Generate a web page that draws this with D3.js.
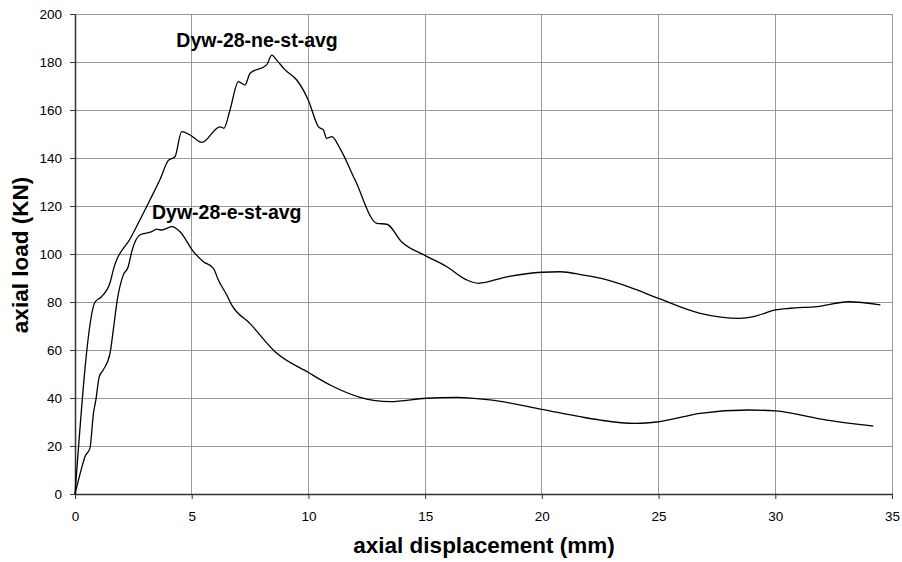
<!DOCTYPE html>
<html><head><meta charset="utf-8">
<script src="https://cdn.jsdelivr.net/npm/d3@7/dist/d3.min.js"></script>
<style>body{margin:0;background:#fff}svg{display:block}</style>
</head><body>
<svg id="c" width="902" height="562"></svg>
<script>
const xTicks = [0,5,10,15,20,25,30,35];
const yTicks = [0,20,40,60,80,100,120,140,160,180,200];
const seriesNames = ["Dyw-28-ne-st-avg","Dyw-28-e-st-avg"];
const neX = [0,0.86,1.11,1.5,1.63,2.4,3.21,3.64,4.0,4.28,4.57,4.93,5.43,6.21,6.38,6.64,7.0,7.28,7.5,8.21,8.43,8.64,9.0,9.5,10.0,10.43,10.64,10.78,11.0,11.35,12.0,12.93,13.36,14.0,15.03,15.93,16.78,17.28,18.5,20.0,20.78,21.78,22.5,23.78,25.0,26.78,28.5,29.07,30.0,30.64,31.78,33.14,34.5];
const neY = [0,80,82,88,93,107,122.5,131,139,140.5,151,149.6,146.5,153,152.4,160,171.8,170.4,175.3,178.8,182.9,180.8,176.7,172.5,164,153,151.7,148.2,148.9,144,130.8,112.8,112.4,105,99.2,94.7,89.2,87.8,90.5,92.4,92.6,91.2,89.9,86.1,81.5,75.3,73.2,73.9,76.7,77.4,78.1,80.1,78.8];
const eX = [0,0.29,0.43,0.64,0.79,0.89,1.04,1.21,1.5,1.64,1.81,2.07,2.28,2.43,2.79,3.29,3.5,3.71,4.14,4.5,5.07,5.5,5.93,6.14,6.5,6.71,7.5,8.57,10.0,10.93,12.21,13.5,15.03,16.36,17.78,20.0,21.64,22.5,24.0,25.0,26.78,28.86,30.0,32.2,34.2];
const eY = [0,11,15.6,19,33.6,39,48.9,51.7,58.6,68.3,80.8,91.3,94.7,101,108,109.3,110.4,110,111.4,109.3,101,96.8,94,89.2,82.9,78.8,71,59.3,50.6,45.4,40.3,38.5,39.9,40.3,39.2,35.3,32.2,30.8,29.4,30.1,33.6,35,34.6,30.8,28.3];
const labelPos = [[7.8,186.2],[6.5,114.5]];

const svg = d3.select("#c");
const m = {l:75, r:10, t:14, b:68};
const W = 902, H = 562;
const x = d3.scaleLinear().domain([0,35]).range([m.l, W-m.r]);
const y = d3.scaleLinear().domain([0,200]).range([H-m.b, m.t]);
const font = "'Liberation Sans', Arial, sans-serif";

// grid
svg.append("g").selectAll("line").data(yTicks.slice(1)).join("line")
  .attr("x1", x(0)).attr("x2", x(35)).attr("y1", d=>y(d)).attr("y2", d=>y(d))
  .attr("stroke", "#999").attr("stroke-width", 1).attr("shape-rendering","crispEdges");
svg.append("g").selectAll("line").data(xTicks.slice(1)).join("line")
  .attr("x1", d=>x(d)).attr("x2", d=>x(d)).attr("y1", y(0)).attr("y2", y(200))
  .attr("stroke", "#999").attr("stroke-width", 1).attr("shape-rendering","crispEdges");

// axes
const xa = svg.append("g").attr("transform", `translate(0,${y(0)})`)
  .call(d3.axisBottom(x).tickValues(xTicks).tickSize(5).tickPadding(12).tickSizeOuter(0));
const ya = svg.append("g").attr("transform", `translate(${x(0)},0)`)
  .call(d3.axisLeft(y).tickValues(yTicks).tickSize(5).tickPadding(8).tickSizeOuter(0));
[xa, ya].forEach(a => {
  a.select(".domain").attr("stroke", "#333").attr("stroke-width", 1.5);
  a.selectAll(".tick line").attr("stroke", "#333");
  a.selectAll("text").attr("font-family", font).attr("font-size", 13.5).attr("fill", "#000");
});

// series
const line = d3.line().x(d=>x(d[0])).y(d=>y(d[1])).curve(d3.curveMonotoneX);
[[neX,neY],[eX,eY]].forEach(([xs,ys]) => {
  svg.append("path").datum(xs.map((v,i)=>[v, ys[i]]))
    .attr("d", line).attr("fill","none").attr("stroke","#000").attr("stroke-width",1.3);
});

// labels
svg.selectAll(".lab").data(seriesNames).join("text")
  .attr("x", (d,i)=>x(labelPos[i][0])).attr("y", (d,i)=>y(labelPos[i][1]))
  .attr("text-anchor","middle").attr("font-family", font).attr("font-weight","bold")
  .attr("font-size", 19.5).text(d=>d);

// axis titles
svg.append("text").attr("x", 484).attr("y", 553)
  .attr("text-anchor","middle").attr("font-family", font).attr("font-weight","bold")
  .attr("font-size", 22.5).text("axial displacement (mm)");
svg.append("text").attr("transform", `translate(28,255) rotate(-90)`)
  .attr("text-anchor","middle").attr("font-family", font).attr("font-weight","bold")
  .attr("font-size", 22.5).text("axial load (KN)");
</script>
</body></html>
